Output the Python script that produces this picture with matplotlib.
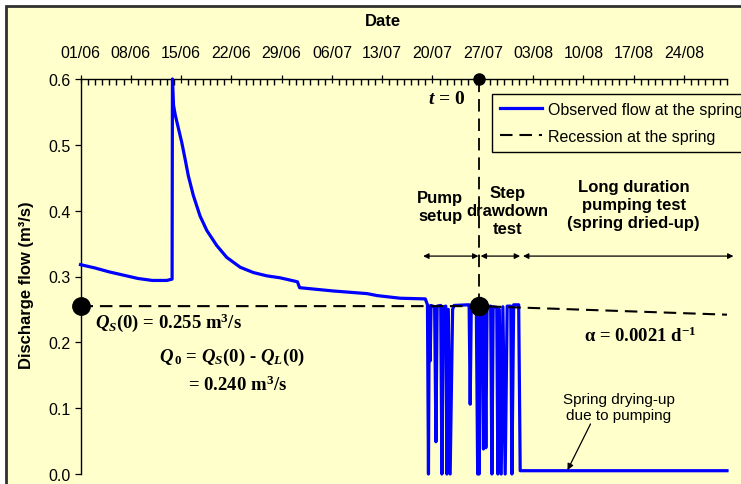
import matplotlib
matplotlib.use("Agg")
import matplotlib.pyplot as plt
from matplotlib.patches import Rectangle
from matplotlib.ticker import MultipleLocator, FixedLocator
from matplotlib.lines import Line2D

plt.rcParams['font.family'] = ['Liberation Sans', 'DejaVu Sans']
plt.rcParams['mathtext.fontset'] = 'custom'
plt.rcParams['mathtext.rm'] = 'Liberation Serif:bold'
plt.rcParams['mathtext.it'] = 'Liberation Serif:bold:italic'
plt.rcParams['mathtext.bf'] = 'Liberation Serif:bold'
plt.rcParams['lines.scale_dashes'] = False

BG = '#FFFFCC'

# ---- data (days since 01/06) ----
day = [0, 2, 4, 6, 8, 10, 12, 12.75, 12.8, 12.95, 13.2, 13.48, 14.09, 14.55,
       15.01, 15.71, 16.64, 17.58, 18.97, 20.36, 22.24, 24.07, 25.93, 27.79,
       30.2, 30.5, 35.2, 39.9, 41.3, 44.5, 48.0, 48.3,
       48.44, 48.55, 48.68, 48.8, 49.3, 49.48, 49.65, 50.15, 50.31, 50.5, 50.85,
       51.0, 51.2, 51.46, 51.8, 52.0, 53.9, 54.1, 54.25, 54.4, 55.1, 55.29, 55.4,
       55.5, 55.7, 56.0, 56.1, 56.25, 56.43, 56.6, 57.1, 57.27, 57.45, 57.95,
       58.1, 58.3, 58.57, 58.8, 59.12, 59.4, 59.9, 60.06, 60.3, 61.0, 61.21, 90.0]
flow = [0.318, 0.313, 0.307, 0.302, 0.297, 0.294, 0.294, 0.296, 0.600, 0.560,
        0.545, 0.532, 0.504, 0.479, 0.453, 0.423, 0.392, 0.370, 0.347, 0.329,
        0.314, 0.306, 0.301, 0.298,
        0.292, 0.283, 0.278, 0.274, 0.271, 0.267, 0.266, 0.257,
        0.0, 0.255, 0.172, 0.256, 0.254, 0.049, 0.255, 0.256, 0.0, 0.254, 0.255,
        0.0, 0.250, 0.0, 0.250, 0.256, 0.257, 0.257, 0.106, 0.256, 0.257, 0.0, 0.250,
        0.0, 0.255, 0.252, 0.038, 0.250, 0.040, 0.254, 0.255, 0.0, 0.254, 0.253,
        0.0, 0.250, 0.0, 0.254, 0.0, 0.255, 0.255, 0.0, 0.257, 0.257, 0.005, 0.005]

t0_day = 55.5
qs0 = 0.255
recess_day = [0, t0_day, 90]
recess_flow = [qs0, qs0, 0.242]

tick_days = [0, 7, 14, 21, 28, 35, 42, 49, 56, 63, 70, 77, 84]
tick_labels = ['01/06', '08/06', '15/06', '22/06', '29/06', '06/07', '13/07',
               '20/07', '27/07', '03/08', '10/08', '17/08', '24/08']

W, H = 741, 485
fig = plt.figure(figsize=(W / 100, H / 100), dpi=100)
fig.patch.set_facecolor('white')
bgrect = Rectangle((5.5 / W, -0.05), 1.1, 1 - 7 / H + 0.05,
                   transform=fig.transFigure, facecolor=BG,
                   edgecolor='#303030', linewidth=2, zorder=-10)
fig.patches.append(bgrect)

ax = fig.add_axes([80.5 / W, 1 - 475 / H, (727 - 80.5) / W, (475 - 80) / H])
ax.set_zorder(5)
ax.set_facecolor('none')
ax.set_xlim(0, 90)
ax.set_ylim(0, 0.6)

for s in ['right', 'bottom']:
    ax.spines[s].set_visible(False)
for s in ['left', 'top']:
    ax.spines[s].set_linewidth(1.0)
    ax.spines[s].set_color('black')

ax.xaxis.set_major_locator(FixedLocator(tick_days))
ax.set_xticklabels(tick_labels)
ax.xaxis.set_minor_locator(FixedLocator([d for d in range(0, 91) if d % 7 != 0]))
ax.tick_params(axis='x', which='major', direction='inout', length=6, width=0.9,
               labelsize=11.5, pad=10.5, top=True, bottom=False,
               labeltop=True, labelbottom=False)
ax.tick_params(axis='x', which='minor', direction='in', length=4, width=1.0,
               top=True, bottom=False, color='black')
ax.yaxis.set_major_locator(MultipleLocator(0.1))
ax.yaxis.set_major_formatter(matplotlib.ticker.FormatStrFormatter('%.1f'))
ax.tick_params(axis='y', which='major', direction='out', length=4, width=0.9,
               labelsize=11.5, pad=3)

fig.text(383 / W, 1 - 22 / H, 'Date', ha='center', va='center',
         fontsize=12, fontweight='bold')
fig.text(27 / W, 1 - 285 / H, 'Discharge flow (m³/s)', ha='center', va='center',
         rotation=90, fontsize=12, fontweight='bold')

# observed flow
ax.plot(day, flow, color='#0000FF', lw=2.3, zorder=3, clip_on=False,
        solid_joinstyle='round', label='Observed flow at the spring')
# recession
ax.plot(recess_day, recess_flow, color='black', lw=1.5, dashes=(9, 5), zorder=4,
        clip_on=False, label='Recession at the spring')
ax.plot([t0_day, t0_day], [qs0, 0.6], color='black', lw=1.3, dashes=(9, 5),
        zorder=4, clip_on=False)

# markers
ax.plot([0], [qs0], 'o', color='black', ms=12.5, clip_on=False, zorder=6)
ax.plot([t0_day], [qs0], 'o', color='black', ms=13, clip_on=False, zorder=6)
ax.plot([t0_day], [0.6], 'o', color='black', ms=8, clip_on=False, zorder=6)

serif = dict(family='Liberation Serif', fontweight='bold')
ax.text(51.0, 0.570, r'$t$ = 0', ha='center', va='center', fontsize=14, **serif)
ax.text(2.0, 0.232, r'$Q_{S}$(0) = 0.255 m$^{3}$/s', ha='left', va='center',
        fontsize=13.5, **serif)
ax.text(21.1, 0.178, r'$Q_{\,\mathit{0}}$ = $Q_{S}$(0) - $Q_{L}$(0)', ha='center',
        va='center', fontsize=13.5, **serif)
ax.text(21.9, 0.137, r'= 0.240 m$^{3}$/s', ha='center', va='center',
        fontsize=13.5, **serif)
ax.text(77.9, 0.210, r'α = 0.0021 d$^{-1}$', ha='center', va='center',
        fontsize=13.5, **serif)

ax.text(50.1, 0.407, 'Pump\nsetup', ha='center', va='center', fontsize=12,
        fontweight='bold', linespacing=1.25)
ax.text(59.4, 0.400, 'Step\ndrawdown\ntest', ha='center', va='center', fontsize=12,
        fontweight='bold', linespacing=1.25)
ax.text(77.0, 0.409, 'Long duration\npumping test\n(spring dried-up)', ha='center',
        va='center', fontsize=12, fontweight='bold', linespacing=1.25)

arrow_kw = dict(arrowstyle='<|-|>', color='black', lw=0.9, mutation_scale=8,
                shrinkA=0, shrinkB=0)
for a, b in [(47.7, 55.4), (55.7, 61.2), (61.6, 90.9)]:
    ax.annotate('', xy=(a, 0.331), xytext=(b, 0.331), arrowprops=arrow_kw,
                annotation_clip=False)

ax.text(74.9, 0.102, 'Spring drying-up\ndue to pumping', ha='center', va='center',
        fontsize=11, linespacing=1.15)
ax.annotate('', xy=(67.8, 0.006), xytext=(71.0, 0.076),
            arrowprops=dict(arrowstyle='-|>', color='black', lw=0.9,
                            mutation_scale=9, shrinkA=0, shrinkB=0))

handles = [Line2D([], [], color='#0000FF', lw=2.3),
           Line2D([], [], color='black', lw=1.5, dashes=(9, 5))]
leg = fig.legend(handles, ['Observed flow at the spring', 'Recession at the spring'],
                 loc='upper left', bbox_to_anchor=(492 / W, 1 - 95 / H),
                 fontsize=11.5, frameon=True, fancybox=False, framealpha=1,
                 facecolor=BG, edgecolor='black', handlelength=2.6,
                 handletextpad=0.4, labelspacing=0.75, borderpad=0.5,
                 borderaxespad=0)
leg.get_frame().set_linewidth(1.0)
leg.set_zorder(10)

fig.savefig('out.png', dpi=100, facecolor=fig.get_facecolor())
